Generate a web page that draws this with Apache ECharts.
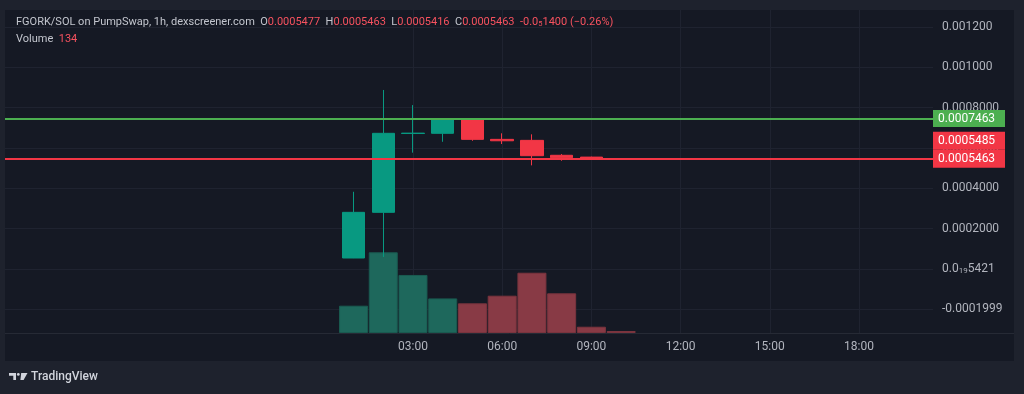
<!DOCTYPE html>
<html><head><meta charset="utf-8">
<script src="https://cdn.jsdelivr.net/npm/echarts@6/dist/echarts.min.js"></script>
<style>html,body{margin:0;padding:0;background:#1e222d}#c{width:1024px;height:394px}</style>
</head><body><div id="c"></div>
<script>
// ---- data (hour of day, OHLC in SOL, volume) ----
const hours   = [1, 2, 3, 4, 5, 6, 7, 8, 9, 10];
const opens   = [0.0000545, 0.000281, 0.000672, 0.000673, 0.000745, 0.000643, 0.000638, 0.000564, 0.000555, 0.0005477];
const closes  = [0.000281, 0.000673, 0.000674, 0.000745, 0.000643, 0.000636, 0.000562, 0.000552, 0.000549, 0.0005463];
const lows    = [0.000054, 0.0000595, 0.000577, 0.000631, 0.000636, 0.000620, 0.000514, 0.000537, 0.000545, 0.0005416];
const highs   = [0.000383, 0.000888, 0.000813, 0.000745, 0.000745, 0.000673, 0.000668, 0.000570, 0.000557, 0.0005485];
const volumes = [1830, 5410, 3890, 2320, 1990, 2500, 4040, 2660, 420, 134];

const timeTicks  = [3, 6, 9, 12, 15, 18];
const timeLabels = ['03:00', '06:00', '09:00', '12:00', '15:00', '18:00'];

const yTickValues = [-0.0002, 0, 0.0002, 0.0004, 0.0006, 0.0008, 0.001, 0.0012];
const yTickLabels = ['-0.0001999', '0.0{s|19}5421', '0.0002000', '0.0004000', '0.0006000', '0.0008000', '0.001000', '0.001200'];

const priceLineHigh = 0.0007463;
const priceLineLast = 0.0005463;
const priceLineBid  = 0.0005485;

const headerTitle = 'FGORK/SOL on PumpSwap, 1h, dexscreener.com';
const headerKeys  = ['O', 'H', 'L', 'C'];
const headerVals  = ['0.0005477', '0.0005463', '0.0005416', '0.0005463'];
const headerChange = ['-0.0', '5', '1400 (−0.26%)'];
const volumeLast = '134';

// ---- colours ----
const UP = '#089981', DOWN = '#f23645';
const VOL_UP = '#1e685c', VOL_DOWN = '#883a45';

const candleData = hours.map((h, i) => [h, opens[i], closes[i], lows[i], highs[i]]);
const volData = hours.map((h, i) => ({
  value: [h, volumes[i]],
  itemStyle: { color: closes[i] >= opens[i] ? VOL_UP : VOL_DOWN,
               borderColor: closes[i] >= opens[i] ? '#1a5a50' : '#7a343e' }
}));

let head = '{g|' + headerTitle + '}';
headerKeys.forEach((k, i) => { head += '{g|  ' + k + '}{r|' + headerVals[i] + '}'; });
head += '{r|  ' + headerChange[0] + '}{rs|' + headerChange[1] + '}{r|' + headerChange[2] + '}';

const FONT = 'Roboto';
const HF = 11;
const chart = echarts.init(document.getElementById('c'), null, { renderer: 'canvas' });
chart.setOption({
  animation: false,
  backgroundColor: '#1e222d',
  textStyle: { fontFamily: FONT },
  title: [
    { left: 16, top: 17, padding: 0, text: head,
      textStyle: { fontSize: HF, fontWeight: 'normal', fontFamily: FONT,
        rich: {
          g: { color: '#c3c6ce', fontSize: HF, fontFamily: FONT },
          r: { color: '#f7525f', fontSize: HF, fontFamily: FONT },
          rs: { color: '#f7525f', fontSize: 7.5, fontFamily: FONT, verticalAlign: 'bottom' }
        } } },
    { left: 16, top: 34, padding: 0, text: '{g|Volume}  {r|' + volumeLast + '}',
      textStyle: { fontSize: HF, fontWeight: 'normal', fontFamily: FONT,
        rich: {
          g: { color: '#c3c6ce', fontSize: HF, fontFamily: FONT },
          r: { color: '#f7525f', fontSize: HF, fontFamily: FONT }
        } } }
  ],
  grid: { left: 5, right: 91, top: 10, bottom: 61, containLabel: false },
  xAxis: {
    type: 'value', min: -10.722, max: 20.489,
    axisLine: { show: false },
    axisTick: { show: false, customValues: timeTicks },
    axisLabel: { customValues: timeTicks, color: '#b2b5be', fontSize: 12, fontFamily: FONT, margin: 8,
      formatter: v => { const i = timeTicks.indexOf(Math.round(v)); return i >= 0 ? timeLabels[i] : ''; } },
    splitLine: { show: true, lineStyle: { color: '#1f2330', width: 1 } }
  },
  yAxis: [
    { type: 'value', position: 'right', min: -0.0003175, max: 0.0012847, scale: false,
      axisLine: { show: false },
      axisTick: { show: false, customValues: yTickValues },
      axisLabel: { customValues: yTickValues, color: '#b2b5be', fontSize: 12, fontFamily: FONT, margin: 9, align: 'left',
        formatter: v => { let b = 0, d = 1; yTickValues.forEach((t, i) => { if (Math.abs(t - v) < d) { d = Math.abs(t - v); b = i; } }); return yTickLabels[b]; },
        rich: { s: { fontSize: 8, color: '#b2b5be', fontFamily: FONT, verticalAlign: 'bottom' } } },
      splitLine: { show: true, lineStyle: { color: '#1f2330', width: 1 } }
    },
    { type: 'value', show: false, min: 0, max: 21650, splitLine: { show: false } }
  ],
  series: [
    { type: 'bar', xAxisIndex: 0, yAxisIndex: 1, barWidth: 29, data: volData,
      itemStyle: { borderWidth: 1 }, z: 1 },
    { type: 'candlestick', xAxisIndex: 0, yAxisIndex: 0, barWidth: 23,
      encode: { x: 0, y: [1, 2, 3, 4] },
      data: candleData,
      itemStyle: { color: UP, color0: DOWN, borderColor: UP, borderColor0: DOWN, borderWidth: 1 },
      z: 3 },
    { type: 'line', xAxisIndex: 0, yAxisIndex: 0, data: [], symbol: 'none', z: 4,
      markLine: {
        silent: true, symbol: ['none', 'none'], animation: false, precision: 10,
        data: [
          { yAxis: priceLineHigh, lineStyle: { color: '#4caf50', width: 2, type: 'solid' },
            label: { show: true, position: 'end', distance: 0, formatter: priceLineHigh.toFixed(7),
              backgroundColor: '#4caf50', color: '#ffffff', fontSize: 12, fontFamily: FONT,
              padding: [2, 5], width: 62, lineHeight: 13 } },
          { yAxis: priceLineLast, lineStyle: { color: '#f23645', width: 2, type: 'solid' },
            label: { show: true, position: 'end', distance: 0,
              formatter: '{a|' + priceLineBid.toFixed(7) + '}\n{a|' + priceLineLast.toFixed(7) + '}\n{c| }',
              rich: {
                a: { backgroundColor: '#f23645', color: '#ffffff', fontSize: 12, fontFamily: FONT,
                     width: 62, height: 18, lineHeight: 18, padding: [0, 5] },
                c: { height: 18, lineHeight: 18, fontSize: 12 }
              } } }
        ]
      }
    }
  ],
  graphic: [
    { type: 'rect', z: -100, shape: { x: 5, y: 10, width: 1009, height: 351 }, style: { fill: '#151924' } },
    { type: 'line', z: 10, shape: { x1: 5, y1: 333.5, x2: 1014, y2: 333.5 }, style: { stroke: '#262a35', lineWidth: 1 } },
    { type: 'group', left: 9, top: 373, children: [
      { type: 'polygon', shape: { points: [[0,0],[7,0],[7,7],[4.3,7],[4.3,2.7],[0,2.7]] }, style: { fill: '#d1d4dc' } },
      { type: 'circle', shape: { cx: 9.3, cy: 1.4, r: 1.4 }, style: { fill: '#d1d4dc' } },
      { type: 'polygon', shape: { points: [[12.2,0],[18.5,0],[14.6,7],[11.4,7]] }, style: { fill: '#d1d4dc' } }
    ] },
    { type: 'text', left: 31, top: 371, style: { text: 'TradingView', fill: '#d1d4dc', font: '500 12px Roboto' } }
  ]
});
</script></body></html>
